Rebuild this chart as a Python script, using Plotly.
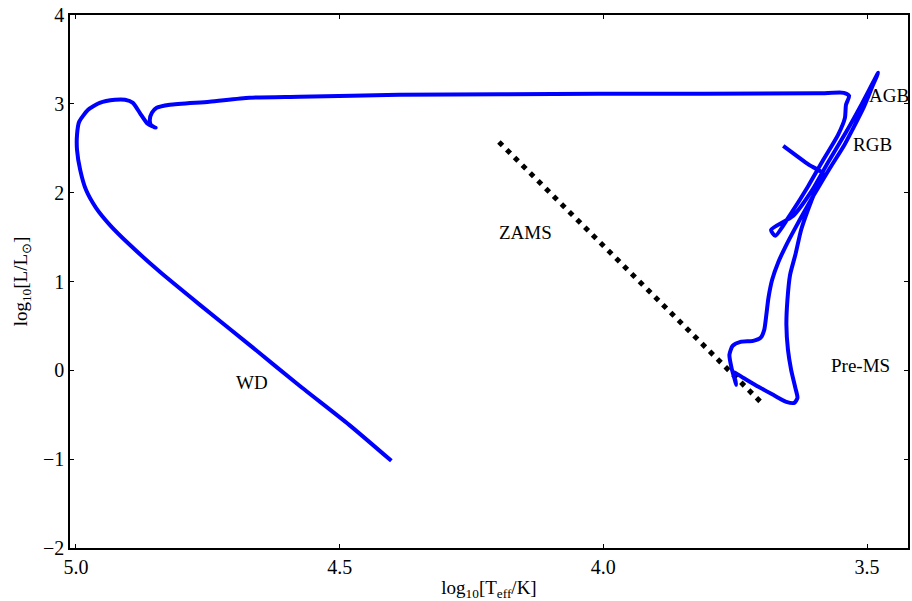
import plotly.graph_objects as go

# Evolutionary track (log Teff, log L)
track_logT = [
    3.659, 3.610, 3.583, 3.597, 3.612, 3.625, 3.636, 3.646, 3.651, 3.653, 3.650, 3.644,
    3.636, 3.632, 3.638, 3.653, 3.678, 3.706, 3.735, 3.754, 3.750, 3.748,
    3.757, 3.761, 3.755, 3.740, 3.716, 3.702, 3.695, 3.691, 3.687, 3.680, 3.668, 3.653,
    3.636, 3.615, 3.593, 3.570, 3.545, 3.525, 3.506, 3.491, 3.479,
    3.510, 3.540, 3.575, 3.605, 3.640, 3.682, 3.674, 3.645, 3.612, 3.583, 3.555, 3.542,
    3.540, 3.534, 3.544, 3.593, 4.009, 4.387, 4.576, 4.671, 4.747, 4.822, 4.847, 4.856,
    4.860, 4.858, 4.849, 4.864, 4.879, 4.892, 4.907, 4.926, 4.955, 4.977, 4.994, 4.998,
    4.998, 4.992, 4.981, 4.962, 4.936, 4.898, 4.841, 4.765, 4.671, 4.576, 4.482, 4.402,
]
track_logL = [
    2.527, 2.313, 2.212, 2.032, 1.807, 1.582, 1.300, 1.075, 0.794, 0.512, 0.231, 0.006,
    -0.197, -0.310, -0.366, -0.355, -0.276, -0.186, -0.084, -0.017, -0.107, -0.163,
    0.028, 0.175, 0.275, 0.321, 0.332, 0.366, 0.456, 0.625, 0.816, 1.019, 1.222, 1.413,
    1.604, 1.829, 2.054, 2.280, 2.516, 2.741, 2.966, 3.180, 3.349,
    3.000, 2.680, 2.330, 2.020, 1.740, 1.582, 1.514, 1.760, 2.070, 2.370, 2.651, 2.842,
    2.989, 3.090, 3.124, 3.118, 3.113, 3.102, 3.079, 3.068, 3.023, 2.989, 2.955, 2.899,
    2.820, 2.764, 2.730, 2.775, 2.899, 3.011, 3.045, 3.045, 3.011, 2.933, 2.797, 2.651,
    2.482, 2.257, 2.032, 1.829, 1.638, 1.413, 1.109, 0.737, 0.287, -0.174, -0.614, -1.019,
]

# ZAMS line
zams_logT = [4.198, 3.702]
zams_logL = [2.57, -0.355]

# Labels
label_text = ["AGB", "RGB", "ZAMS", "Pre-MS", "WD"]
label_x = [3.459, 3.489, 4.147, 3.513, 4.667]
label_y = [3.09, 2.54, 1.55, 0.06, -0.14]

x_ticks = [5.0, 4.5, 4.0, 3.5]
x_tick_text = ["5.0", "4.5", "4.0", "3.5"]
y_ticks = [-2, -1, 0, 1, 2, 3, 4]
y_tick_text = ["\u22122", "\u22121", "0", "1", "2", "3", "4"]

FONT = "Liberation Serif, Times New Roman, Times, serif"

fig = go.Figure()
fig.add_trace(go.Scatter(
    x=zams_logT, y=zams_logL, mode="lines",
    line=dict(color="black", width=5, dash="5px,6px"),
    showlegend=False, hoverinfo="skip",
))
fig.add_trace(go.Scatter(
    x=track_logT, y=track_logL, mode="lines",
    line=dict(color="#0000ff", width=4, shape="spline", smoothing=0.6),
    showlegend=False,
))

for t, xx, yy in zip(label_text, label_x, label_y):
    fig.add_annotation(x=xx, y=yy, text=t, showarrow=False,
                       font=dict(family=FONT, size=19, color="black"))

axis_common = dict(
    showgrid=False, zeroline=False, showline=True, linecolor="black",
    linewidth=1.5, mirror="ticks", ticks="inside", ticklen=4,
    tickcolor="black", tickwidth=1,
    tickfont=dict(family=FONT, size=20, color="black"),
)

fig.update_layout(
    width=912, height=601,
    margin=dict(l=70, r=2, t=15, b=53),
    paper_bgcolor="white", plot_bgcolor="white",
    font=dict(family=FONT, color="black"),
    xaxis=dict(range=[5.0113, 3.4224], tickvals=x_ticks, ticktext=x_tick_text,
               title=dict(text="log<sub>10</sub>[T<sub>eff</sub>/K]",
                          font=dict(family=FONT, size=19, color="black"), standoff=4),
               **axis_common),
    yaxis=dict(range=[-2, 4], tickvals=y_ticks, ticktext=y_tick_text,
               title=dict(text="log<sub>10</sub>[L/L<sub>\u2299</sub>]",
                          font=dict(family=FONT, size=19, color="black"), standoff=10),
               **axis_common),
)

fig.write_html("out.html")
